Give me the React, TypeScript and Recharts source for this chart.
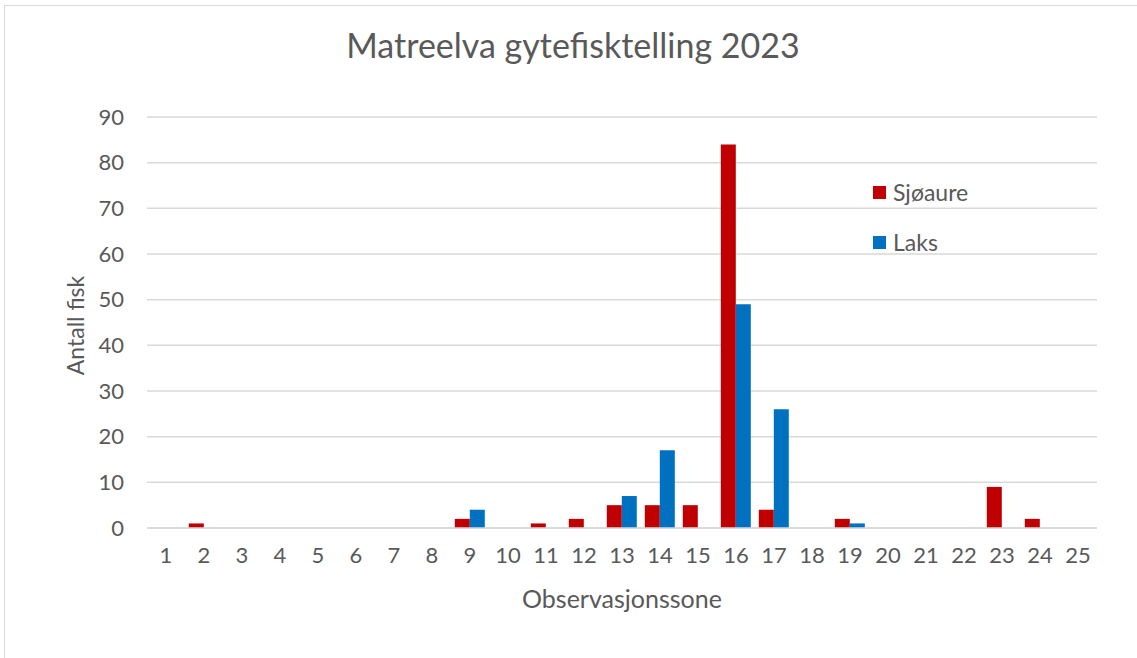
import React from 'react'
import { BarChart, Bar, XAxis, YAxis, CartesianGrid, Legend, Label } from 'recharts'

const zones = ['1', '2', '3', '4', '5', '6', '7', '8', '9', '10', '11', '12', '13', '14', '15', '16', '17', '18', '19', '20', '21', '22', '23', '24', '25']
const sjoaure = [0, 1, 0, 0, 0, 0, 0, 0, 2, 0, 1, 2, 5, 5, 5, 84, 4, 0, 2, 0, 0, 0, 9, 2, 0]
const laks = [0, 0, 0, 0, 0, 0, 0, 0, 4, 0, 0, 0, 7, 17, 0, 49, 26, 0, 1, 0, 0, 0, 0, 0, 0]
const yTicks = [0, 10, 20, 30, 40, 50, 60, 70, 80, 90]

const data = zones.map((z, i) => ({ zone: z, Sjøaure: sjoaure[i], Laks: laks[i] }))

const textColor = '#595959'
const font = 'Lato, sans-serif'

function LegendBox() {
  const items = [
    { name: 'Sjøaure', color: '#C00000' },
    { name: 'Laks', color: '#0070C0' }
  ]
  return (
    <div style={{ fontFamily: font, fontSize: 23, color: textColor }}>
      {items.map((it) => (
        <div key={it.name} style={{ display: 'flex', alignItems: 'center', height: 28, marginBottom: 22 }}>
          <span style={{ width: 13, height: 13, background: it.color, display: 'inline-block', marginRight: 7 }} />
          <span>{it.name}</span>
        </div>
      ))}
    </div>
  )
}

export default function App() {
  return (
    <div style={{ position: 'fixed', left: 0, top: 0, width: 1137, height: 658, overflow: 'hidden', background: '#fff' }}>
      <div style={{ position: 'absolute', left: 4, top: 5, width: 1200, height: 700, border: '1.5px solid #D9D9D9' }} />
      <div style={{ position: 'absolute', left: 0, top: 24, width: 1146, textAlign: 'center', fontFamily: font, fontSize: 34, color: textColor }}>
        Matreelva gytefisktelling 2023
      </div>
      <div style={{ position: 'absolute', left: 0, top: 0 }}>
        <BarChart
          width={1137}
          height={658}
          data={data}
          margin={{ top: 117, right: 40, bottom: 100, left: 0 }}
          barCategoryGap="10%"
          barGap={0}
        >
          <CartesianGrid vertical={false} stroke="#D9D9D9" strokeWidth={1.5} />
          <XAxis
            dataKey="zone"
            height={30}
            tickLine={false}
            tickSize={0}
            tickMargin={19}
            axisLine={{ stroke: '#D9D9D9', strokeWidth: 1.5 }}
            tick={{ fill: textColor, fontSize: 22, fontFamily: font }}
            interval={0}
          >
            <Label
              value="Observasjonssone"
              position="bottom"
              offset={32}
              style={{ fill: textColor, fontSize: 25, fontFamily: font }}
            />
          </XAxis>
          <YAxis
            width={147}
            domain={[0, 90]}
            ticks={yTicks}
            tickLine={false}
            tickSize={0}
            tickMargin={23}
            axisLine={false}
            tick={{ fill: textColor, fontSize: 22, fontFamily: font }}
          >
            <Label
              value="Antall fisk"
              angle={-90}
              position="insideLeft"
              offset={76}
              dy={3}
              style={{ fill: textColor, fontSize: 23, fontFamily: font, textAnchor: 'middle' }}
            />
          </YAxis>
          <Legend
            layout="horizontal"
            verticalAlign="middle"
            content={() => <LegendBox />}
            wrapperStyle={{ position: 'absolute', left: 873, top: 178, width: 'auto' }}
          />
          <Bar dataKey="Sjøaure" fill="#C00000" isAnimationActive={false} />
          <Bar dataKey="Laks" fill="#0070C0" isAnimationActive={false} />
        </BarChart>
      </div>
    </div>
  )
}
